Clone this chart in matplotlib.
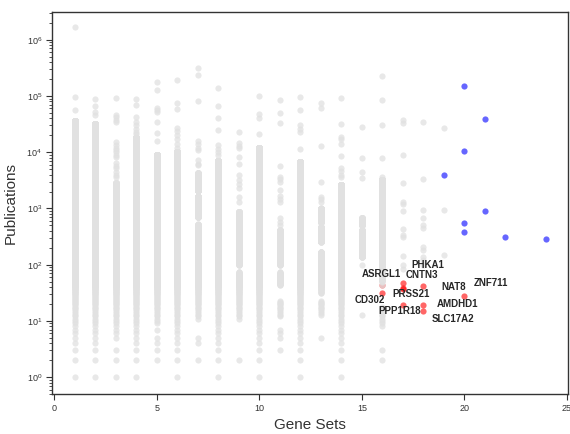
import matplotlib
matplotlib.use("Agg")
import matplotlib.pyplot as plt
import numpy as np

plt.rcParams['font.family'] = ['Liberation Sans', 'DejaVu Sans']

# gray background genes: for each gene-set count, runs of consecutive
# publication counts (lo, hi) plus single values
gene_sets = list(range(1, 20))
gray_runs = [
    [(1, 36000)],                                   # 1
    [(1, 32000)],                                   # 2
    [(5, 2800)],                                    # 3
    [(1, 18000)],                                   # 4
    [(9, 9000)],                                    # 5
    [(1, 10000)],                                   # 6
    [(11, 520), (710, 1600), (2100, 4200)],         # 7
    [(1, 7000)],                                    # 8
    [(11, 75), (98, 870)],                          # 9
    [(4, 12000)],                                   # 10
    [(12, 23), (43, 74), (98, 415)],                # 11
    [(5, 6700)],                                    # 12
    [(13, 23), (31, 170), (255, 470), (570, 1000)], # 13
    [(5, 2600)],                                    # 14
    [(135, 224), (250, 415), (505, 680)],           # 15
    [(8, 18), (50, 3200)],                          # 16
    [],                                             # 17
    [],                                             # 18
    [],                                             # 19
]
gray_single = [
    [57000, 97000, 1700000],
    [46000, 52000, 66000, 89000],
    [1, 2, 3, 3700, 4000, 4400, 5200, 5800, 6500, 8300, 9000, 10000, 11000,
     12000, 13500, 15000, 35000, 38000, 42000, 46000, 91000],
    [21000, 23000, 26000, 30000, 35000, 43000, 69000, 90000],
    [2, 3, 4, 5, 7, 16000, 22000, 34000, 52000, 56000, 60000, 130000, 180000],
    [12000, 14000, 17000, 20000, 24000, 27000, 58000, 76000, 190000],
    [2, 4, 5, 6000, 6300, 7300, 11000, 12000, 14000, 16000, 80000, 240000,
     310000],
    [8900, 10000, 11500, 13500, 25000, 40000, 66000, 140000],
    [2, 1300, 1600, 2300, 2700, 3200, 3900, 6300, 8300, 12000, 13000, 14500,
     23000],
    [1, 2, 3, 21000, 40000, 47000, 100000],
    [3, 5, 6, 7, 505, 580, 670, 1300, 1500, 1700, 2100, 2900, 3300, 3700,
     5700, 33000, 49000, 85000],
    [1, 2, 3, 4, 11500, 23000, 26000, 30000, 56000, 97000],
    [5, 1300, 1450, 1600, 2900, 13000, 62000, 75000],
    [1, 2, 3, 4, 3700, 3900, 4600, 5200, 8400, 14000, 17000, 19000, 32000,
     93000],
    [13, 98, 3500, 4400, 8000, 28000],
    [2, 3, 44, 3700, 7900, 31000, 86000, 230000],
    [85, 98, 140, 310, 340, 430, 900, 1200, 1300, 2800, 8800, 33000, 38000],
    [98, 120, 139, 182, 207, 450, 510, 680, 950, 3400, 34000],
    [150, 930, 27000],
]

# highlighted genes (blue)
blue_sets = [20, 21, 20, 19, 21, 20, 20, 22, 24]
blue_pubs = [150000, 39000, 10500, 3900, 900, 550, 380, 310, 290]

# labelled genes (red)
red_genes = ['ASRGL1', 'CD302', 'PHKA1', 'CNTN3', 'PRSS21', 'PPP1R18',
             'NAT8', 'AMDHD1', 'SLC17A2', 'ZNF711']
red_sets = [16, 16, 17, 17, 17, 17, 18, 18, 18, 20]
red_pubs = [44, 32, 48, 39, 37, 19, 42, 19, 15, 28]

# label offsets in pixels (dx, dy) from each red point
label_offsets = [(-1, 11), (-13, -7), (25, 18), (19, 13), (8, -5), (-3, -6),
                 (30, -1), (34, 1), (30, -8), (26, 13)]

# build gray point cloud
gx, gy = [], []
for gs, runs, singles in zip(gene_sets, gray_runs, gray_single):
    vals = [np.arange(lo, hi + 1) for lo, hi in runs]
    vals.append(np.array(singles))
    vals = np.concatenate(vals)
    gx.append(np.full(len(vals), gs))
    gy.append(vals)
gx = np.concatenate(gx)
gy = np.concatenate(gy)

fig = plt.figure(figsize=(5.7, 4.34), dpi=100)
ax = fig.add_axes([0.092, 0.092, 0.9045, 0.88])

ax.scatter(red_sets, red_pubs, s=20, c='red', alpha=0.6, linewidths=0, zorder=1)
ax.scatter(gx, gy, s=20, c='#e1e1e1', alpha=0.75, linewidths=0, zorder=2)
ax.scatter(blue_sets, blue_pubs, s=20, c='blue', alpha=0.6, linewidths=0, zorder=3)

for name, xs, ys, off in zip(red_genes, red_sets, red_pubs, label_offsets):
    ax.annotate(name, (xs, ys), xytext=off, textcoords='offset pixels',
                ha='center', va='center', fontsize=7, fontweight='bold',
                color='#262626', zorder=4)

ax.set_yscale('log')
ax.set_xlim(-0.1, 25.05)
ax.set_ylim(0.5, 3.1e6)
ax.set_xticks([0, 5, 10, 15, 20, 25])

for sp in ax.spines.values():
    sp.set_color('#333333')
    sp.set_linewidth(1.0)
ax.tick_params(which='major', direction='out', length=4, width=0.8,
               color='#333333', labelsize=6.5, labelcolor='#333333')
ax.tick_params(which='minor', direction='out', length=2, width=0.6,
               color='#333333')

ax.set_xlabel('Gene Sets', fontsize=11, color='#333333', labelpad=3)
ax.set_ylabel('Publications', fontsize=11, color='#333333', labelpad=6)

fig.savefig('out.png', dpi=100)
